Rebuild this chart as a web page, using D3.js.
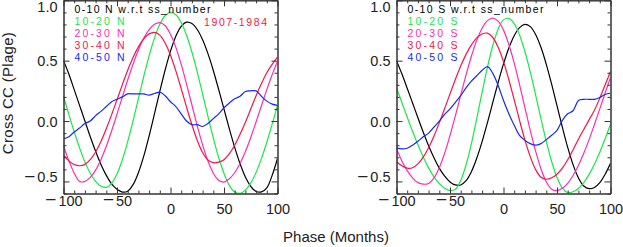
<!DOCTYPE html>
<html><head><meta charset="utf-8">
<script src="https://cdn.jsdelivr.net/npm/d3@7"></script>
<style>
html,body{margin:0;padding:0;background:#fff;}
svg{display:block;font-family:"Liberation Sans",Arial,Helvetica,sans-serif;}
</style></head>
<body><svg id="chart" width="623" height="247"></svg>
<script>
// ---- data ----
const months = [-100,-95,-90,-85,-80,-75,-70,-65,-60,-55,-50,-45,-40,-35,-30,-25,-20,-15,-10,-5,0,5,10,15,20,25,30,35,40,45,50,55,60,65,70,75,80,85,90,95,100];

const N_0_10  = [0.50,0.39,0.26,0.13,0.00,-0.13,-0.25,-0.36,-0.45,-0.52,-0.565,-0.588,-0.581,-0.527,-0.428,-0.291,-0.124,0.059,0.245,0.423,0.579,0.703,0.784,0.819,0.807,0.758,0.673,0.558,0.419,0.262,0.099,-0.065,-0.218,-0.353,-0.464,-0.541,-0.583,-0.587,-0.553,-0.45,-0.31];
const N_10_20 = [0.205,0.055,-0.089,-0.222,-0.338,-0.432,-0.50,-0.54,-0.549,-0.516,-0.438,-0.320,-0.170,0.002,0.186,0.369,0.540,0.687,0.801,0.872,0.90,0.880,0.816,0.711,0.572,0.406,0.224,0.038,-0.140,-0.302,-0.434,-0.533,-0.588,-0.599,-0.572,-0.514,-0.425,-0.311,-0.176,-0.026,0.131];
const N_20_30 = [-0.205,-0.33,-0.43,-0.50,-0.50,-0.467,-0.406,-0.318,-0.209,-0.081,0.057,0.199,0.340,0.471,0.588,0.686,0.757,0.801,0.815,0.789,0.719,0.610,0.469,0.306,0.133,-0.040,-0.197,-0.331,-0.432,-0.490,-0.505,-0.478,-0.428,-0.352,-0.253,-0.136,-0.007,0.127,0.260,0.384,0.494];
const N_30_40 = [-0.28,-0.33,-0.36,-0.37,-0.359,-0.320,-0.256,-0.169,-0.064,0.053,0.177,0.302,0.421,0.527,0.614,0.681,0.722,0.735,0.712,0.646,0.545,0.416,0.268,0.115,-0.031,-0.160,-0.261,-0.323,-0.345,-0.34,-0.32,-0.27,-0.20,-0.11,-0.01,0.10,0.21,0.31,0.40,0.47,0.53];
const N_40_50 = [-0.148,-0.13,-0.09,-0.058,-0.02,0.0,0.045,0.08,0.12,0.16,0.18,0.20,0.225,0.225,0.225,0.225,0.215,0.228,0.24,0.21,0.16,0.12,0.06,0.0,-0.03,-0.03,-0.045,-0.02,0.02,0.06,0.11,0.15,0.185,0.205,0.245,0.25,0.25,0.205,0.165,0.14,0.13];

const S_0_10  = [0.50,0.391,0.272,0.150,0.027,-0.093,-0.205,-0.304,-0.390,-0.457,-0.504,-0.529,-0.530,-0.494,-0.419,-0.308,-0.170,-0.013,0.154,0.319,0.473,0.605,0.707,0.774,0.80,0.782,0.717,0.611,0.470,0.305,0.127,-0.051,-0.218,-0.361,-0.470,-0.538,-0.56,-0.55,-0.51,-0.44,-0.35];
const S_10_20 = [0.275,0.154,0.033,-0.085,-0.196,-0.298,-0.388,-0.462,-0.518,-0.557,-0.576,-0.565,-0.493,-0.363,-0.187,0.021,0.238,0.447,0.626,0.761,0.838,0.850,0.807,0.713,0.576,0.408,0.217,0.020,-0.168,-0.335,-0.467,-0.555,-0.592,-0.586,-0.558,-0.510,-0.442,-0.357,-0.258,-0.146,-0.027];
const S_20_30 = [-0.227,-0.33,-0.41,-0.47,-0.51,-0.523,-0.517,-0.471,-0.386,-0.267,-0.120,0.043,0.214,0.383,0.537,0.668,0.769,0.832,0.853,0.827,0.753,0.634,0.480,0.302,0.112,-0.077,-0.249,-0.395,-0.503,-0.564,-0.576,-0.557,-0.516,-0.451,-0.368,-0.267,-0.154,-0.028,0.101,0.232,0.36];
const S_30_40 = [-0.337,-0.37,-0.39,-0.387,-0.355,-0.299,-0.221,-0.125,-0.015,0.103,0.225,0.344,0.455,0.552,0.631,0.689,0.721,0.728,0.692,0.611,0.492,0.342,0.176,0.005,-0.156,-0.295,-0.401,-0.465,-0.482,-0.47,-0.44,-0.39,-0.32,-0.24,-0.15,-0.07,0.01,0.09,0.19,0.30,0.41];
const S_40_50 = [-0.222,-0.23,-0.225,-0.20,-0.168,-0.13,-0.10,-0.05,0.0,0.055,0.10,0.155,0.21,0.275,0.33,0.375,0.42,0.45,0.395,0.295,0.17,0.06,-0.035,-0.118,-0.16,-0.187,-0.20,-0.187,-0.154,-0.118,-0.077,0.005,0.06,0.085,0.17,0.18,0.18,0.18,0.195,0.22,0.23];

const bandsN = ["0-10 N w.r.t ss_number","10-20 N","20-30 N","30-40 N","40-50 N"];
const bandsS = ["0-10 S w.r.t ss_number","10-20 S","20-30 S","30-40 S","40-50 S"];
const periodLabel = "1907-1984";
const xTicks = [-100,-50,0,50,100];
const xMinor = [-90,-80,-70,-60,-40,-30,-20,-10,10,20,30,40,60,70,80,90];
const yTicks = [-0.5,0.0,0.5,1.0];
const yMinor = [-0.6,-0.4,-0.3,-0.2,-0.1,0.1,0.2,0.3,0.4,0.6,0.7,0.8,0.9];
const yTitle = "Cross CC (Plage)";
const xTitle = "Phase (Months)";

// ---- drawing ----
const colors = ["#000000","#18e848","#ff2cb4","#ff1048","#1428ff"];
const svg = d3.select("#chart");
const y = d3.scaleLinear().domain([-0.6,1.0]).range([193.5,0.3]);

const panels = [
  {x0:63.5, x1:277.5, series:[N_0_10,N_10_20,N_20_30,N_30_40,N_40_50], labels:bandsN, period:true, ytitle:true},
  {x0:396.5, x1:610.5, series:[S_0_10,S_10_20,S_20_30,S_30_40,S_40_50], labels:bandsS, period:false, ytitle:false}
];

const fmtY = d3.format(".1f");
const axisColor = "#333";

function fixMinus(sel){
  sel.each(function(){
    const t = d3.select(this);
    const s = t.text();
    if (s.startsWith("−")) {
      t.text(null);
      t.append("tspan").attr("font-size","19px").attr("dy","0.05em").text("−");
      t.append("tspan").attr("font-size","14.5px").attr("dy","-0.05em").attr("dx","2").text(s.slice(1));
    }
  });
}

panels.forEach((p,pi)=>{
  const x = d3.scaleLinear().domain([-100,100]).range([p.x0,p.x1]);
  const g = svg.append("g");
  const clipId = "clip"+pi;
  svg.append("clipPath").attr("id",clipId).append("rect")
    .attr("x",p.x0).attr("y",y(1.0)).attr("width",p.x1-p.x0).attr("height",y(-0.6)-y(1.0));

  // curves
  const line = d3.line().x((d,i)=>x(months[i])).y(d=>y(d)).curve(d3.curveCatmullRom.alpha(0.5));
  p.series.forEach((s,si)=>{
    g.append("path").attr("d",line(s)).attr("fill","none")
      .attr("stroke",colors[si]).attr("stroke-width",1.2)
      .attr("clip-path","url(#"+clipId+")");
  });

  // axes
  const bottom = g.append("g").attr("transform",`translate(0,${y(-0.6)})`)
    .call(d3.axisBottom(x).tickValues(xTicks).tickSizeInner(-6).tickSizeOuter(0).tickPadding(12).tickFormat(d3.format("d")));
  g.append("g").attr("transform",`translate(0,${y(-0.6)})`)
    .call(d3.axisBottom(x).tickValues(xMinor).tickSizeInner(-3).tickSizeOuter(0).tickFormat(""));
  g.append("g").attr("transform",`translate(0,${y(1.0)})`)
    .call(d3.axisTop(x).tickValues(xTicks).tickSizeInner(-6).tickSizeOuter(0).tickFormat(""));
  g.append("g").attr("transform",`translate(0,${y(1.0)})`)
    .call(d3.axisTop(x).tickValues(xMinor).tickSizeInner(-3).tickSizeOuter(0).tickFormat(""));
  const left = g.append("g").attr("transform",`translate(${p.x0},0)`)
    .call(d3.axisLeft(y).tickValues(yTicks).tickSizeInner(-6).tickSizeOuter(0).tickPadding(6).tickFormat(fmtY));
  g.append("g").attr("transform",`translate(${p.x0},0)`)
    .call(d3.axisLeft(y).tickValues(yMinor).tickSizeInner(-3).tickSizeOuter(0).tickFormat(""));
  g.append("g").attr("transform",`translate(${p.x1},0)`)
    .call(d3.axisRight(y).tickValues(yTicks).tickSizeInner(-6).tickSizeOuter(0).tickFormat(""));
  g.append("g").attr("transform",`translate(${p.x1},0)`)
    .call(d3.axisRight(y).tickValues(yMinor).tickSizeInner(-3).tickSizeOuter(0).tickFormat(""));

  g.selectAll(".domain").attr("stroke",axisColor).attr("stroke-width",1);
  g.selectAll(".tick line").attr("stroke",axisColor).attr("stroke-width",1);
  g.selectAll(".tick text").attr("font-family",'"Liberation Sans",Arial,sans-serif')
    .attr("font-size","14.5px").attr("fill","#222");
  bottom.selectAll(".tick text").attr("dy","0.6em").call(fixMinus);
  left.selectAll(".tick text").attr("dy","0.36em").call(fixMinus);
  // keep top label inside the picture
  left.selectAll(".tick").filter(d=>d===1.0).select("text").attr("dy","0.78em");

  // legend
  const lg = g.append("g").attr("font-size","10.5px");
  p.labels.forEach((lab,i)=>{
    lg.append("text").attr("x",p.x0+11).attr("y",13+i*12.1)
      .attr("fill",colors[i])
      .attr("textLength", i===0 ? 136 : 50).attr("lengthAdjust","spacing")
      .text(lab);
  });
  if (p.period) {
    lg.append("text").attr("x",204).attr("y",25.5).attr("fill",colors[3])
      .attr("textLength",63).attr("lengthAdjust","spacing").text(periodLabel);
  }
  if (p.ytitle) {
    svg.append("text").attr("transform","translate(13,93) rotate(-90)")
      .attr("text-anchor","middle").attr("font-size","15px").attr("fill","#222")
      .attr("letter-spacing","0.3px").text(yTitle);
  }
});

svg.append("text").attr("x",336).attr("y",242).attr("text-anchor","middle")
  .attr("font-size","15px").attr("fill","#222").text(xTitle);
</script>
</body></html>
